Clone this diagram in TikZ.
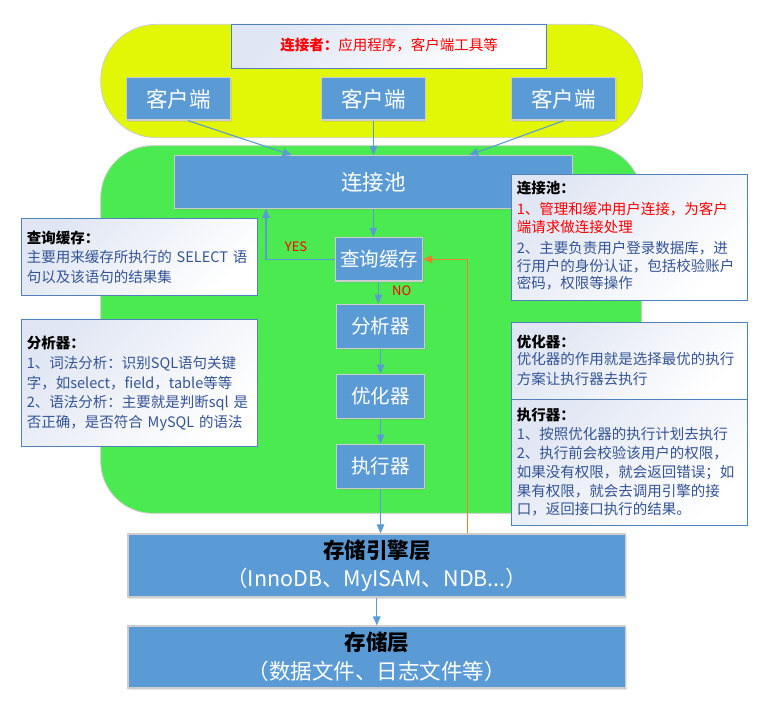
\documentclass[tikz,border=0pt]{standalone}
\usepackage{fontspec}
\setmainfont{Noto Sans CJK SC}
\usetikzlibrary{arrows.meta,shadows}
\definecolor{cyel}{RGB}{226,247,6}
\definecolor{cgrn}{RGB}{75,234,80}
\definecolor{cblue}{RGB}{91,155,213}
\definecolor{cedge}{RGB}{205,205,205}
\definecolor{dtext}{RGB}{52,84,150}
\definecolor{dedge}{RGB}{79,129,189}
\definecolor{dbg}{RGB}{224,230,243}
\definecolor{corange}{RGB}{237,125,49}
\definecolor{cred}{RGB}{255,0,0}
\begin{document}
\begin{tikzpicture}[x=1pt,y=-1pt,
  region/.style={draw=cedge, line width=0.8pt},
  bluebox/.style={draw=cedge, line width=1.2pt, fill=cblue, text=white, inner sep=0pt,
    drop shadow={shadow xshift=1pt,shadow yshift=-1.5pt,opacity=0.18}},
  bigfont/.style={font=\fontsize{21.5}{24}\selectfont},
  midfont/.style={font=\fontsize{19.5}{22}\selectfont},
  descbox/.style={draw=dedge, line width=0.8pt, top color=dbg, bottom color=white, shading angle=45, inner sep=0pt},
  dtitle/.style={anchor=base west, inner sep=0pt, font=\fontsize{14.5}{18}\selectfont\bfseries, text=black},
  dbody/.style={anchor=base west, inner sep=0pt, text=dtext, align=left, text width=228pt},
  arr/.style={draw=cblue, line width=1.1pt, -{Triangle[length=9pt,width=7.5pt]}},
  oarr/.style={draw=corange, line width=1pt, -{Triangle[length=9pt,width=7.5pt]}},
  lbl/.style={text=cred, inner sep=0pt, font=\fontsize{13}{15}\selectfont}
]
\useasboundingbox (0,0) rectangle (775,707);
% regions
\draw[region, fill=cyel, rounded corners=56pt] (100.7,24.3) rectangle (642.7,137.7);
\draw[region, fill=cgrn, rounded corners=52pt] (100.7,145.7) rectangle (641.7,513.3);
% top label
\node[descbox, minimum width=315pt, minimum height=44pt] (dtop) at (389.2,46.3) {};
\node[inner sep=0pt, text=cred, font=\fontsize{14.5}{18}\selectfont] (dtopt) at (389.2,45.5) {\textbf{连接者：}应用程序，客户端工具等};
% clients
\node[bluebox, bigfont, minimum width=104pt, minimum height=42.3pt] (c1) at (178.7,98.9) {客户端};
\node[bluebox, bigfont, minimum width=103.6pt, minimum height=42.3pt] (c2) at (373.5,98.9) {客户端};
\node[bluebox, bigfont, minimum width=104pt, minimum height=42.3pt] (c3) at (563.7,98.9) {客户端};
% pool
\node[bluebox, bigfont, minimum width=398pt, minimum height=52.6pt] (pool) at (373.3,182) {连接池};
% middle column
\node[bluebox, midfont, minimum width=87pt, minimum height=43.7pt] (qc) at (379,259.2) {查询缓存};
\node[bluebox, midfont, minimum width=88pt, minimum height=44pt] (an) at (380.5,326.2) {分析器};
\node[bluebox, midfont, minimum width=88pt, minimum height=44pt] (op) at (380.5,396.3) {优化器};
\node[bluebox, midfont, minimum width=88pt, minimum height=44pt] (ex) at (380.5,466.3) {执行器};
% storage
\node[bluebox, align=center, font=\fontsize{21.5}{28}\selectfont, minimum width=497.6pt, minimum height=63pt] (se) at (376.8,565.5) {{\bfseries\color{black}存储引擎层}\\（InnoDB、MyISAM、NDB...）};
\node[bluebox, align=center, font=\fontsize{21.5}{28.7}\selectfont, minimum width=497.6pt, minimum height=62pt] (st) at (376.8,657) {{\bfseries\color{black}存储层}\\（数据文件、日志文件等）};
% arrows
\draw[arr] ([xshift=9.3pt]c1.south) -- ([xshift=-81.6pt]pool.north);
\draw[arr] (c2.south) -- (c2.south |- pool.north);
\draw[arr] (c3.south) -- ([xshift=96pt]pool.north);
\draw[arr] (pool.south) -- (pool.south |- qc.north);
\draw[arr] ([xshift=-0.7pt]qc.south) -- ([xshift=-0.7pt]qc.south |- an.north);
\draw[arr] (an.south) -- (op.north);
\draw[arr] (op.south) -- (ex.north);
\draw[arr] (ex.south) -- (ex.south |- se.north);
\draw[arr] (se.south) -- (st.north);
\draw[arr] (qc.west) -| ([xshift=-107.3pt]pool.south);
\draw[oarr] ([xshift=90.5pt]se.north) |- (qc.east);
\node[lbl] (yes) at (296,246.7) {YES};
\node[lbl] (no) at (401.7,291) {NO};
% description boxes
\node[descbox, minimum width=235.6pt, minimum height=76.7pt] (dqc) at (139.5,256.65) {};
\node[dtitle] (dqct) at (26.7,243.5) {查询缓存：};
\node[dbody, font=\fontsize{14.5}{20}\selectfont] (dqcb) at (26.7,262.5) {主要用来缓存所执行的 SELECT 语\\句以及该语句的结果集};

\node[descbox, minimum width=235.6pt, minimum height=126.3pt] (dan) at (139.5,382.85) {};
\node[dtitle] (dant) at (26.7,348.5) {分析器：};
\node[dbody, font=\fontsize{14.5}{19.7}\selectfont] (danb) at (26.7,368.5) {1、词法分析：识别SQL语句关键\\字，如select，field，table等等\\2、语法分析：主要就是判断sql 是\\否正确，是否符合 MySQL 的语法};

\node[descbox, minimum width=235.6pt, minimum height=126pt] (dpool) at (629.5,237) {};
\node[dtitle] (dpoolt) at (516.7,193.5) {连接池：};
\node[dbody, text=cred, font=\fontsize{14.5}{17.7}\selectfont] (dpoolb) at (516.7,214.5) {1、管理和缓冲用户连接，为客户\\端请求做连接处理};
\node[dbody, font=\fontsize{14.5}{17.6}\selectfont] (dpoolc) at (516.7,253.5) {2、主要负责用户登录数据库，进\\行用户的身份认证，包括校验账户\\密码，权限等操作};

\node[descbox, minimum width=235.6pt, minimum height=76.6pt] (dop) at (629.5,361) {};
\node[dtitle] (dopt) at (516.7,347.2) {优化器：};
\node[dbody, font=\fontsize{14.5}{19.7}\selectfont] (dopb) at (516.7,364.8) {优化器的作用就是选择最优的执行\\方案让执行器去执行};

\node[descbox, minimum width=235.6pt, minimum height=125.7pt] (dex) at (629.5,462.15) {};
\node[dtitle] (dext) at (516.7,420.5) {执行器：};
\node[dbody, font=\fontsize{14.5}{18.75}\selectfont] (dexb) at (516.7,439.8) {1、按照优化器的执行计划去执行\\2、执行前会校验该用户的权限，\\如果没有权限，就会返回错误；如\\果有权限，就会去调用引擎的接\\口，返回接口执行的结果。};
\end{tikzpicture}
\end{document}
